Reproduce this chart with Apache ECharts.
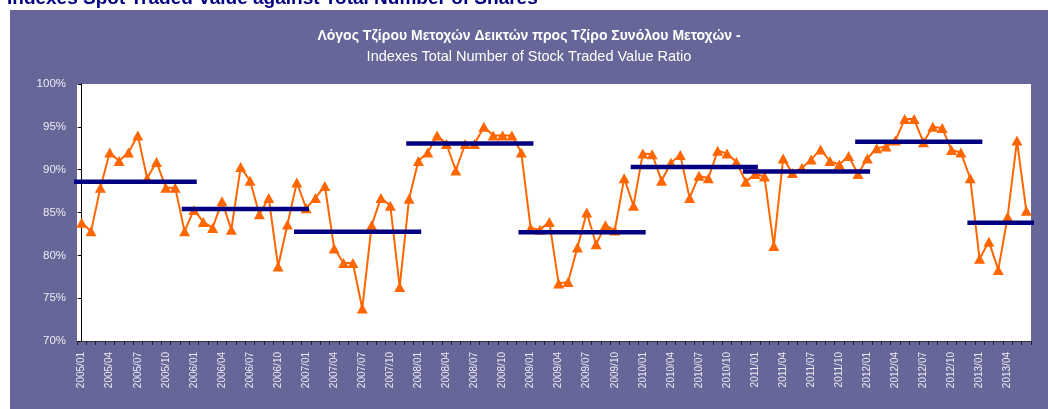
<!DOCTYPE html>
<html><head><meta charset="utf-8">
<script src="https://cdn.jsdelivr.net/npm/echarts@6/dist/echarts.min.js"></script>
<style>html,body{margin:0;padding:0;background:#fff}#c{width:1048px;height:409px}</style>
</head><body><div id="c"></div>
<script>
// ---- data ----
const heading = 'Indexes Spot Traded Value against Total Number of Shares';
const titleGr = 'Λόγος Τζίρου Μετοχών Δεικτών προς Τζίρο Συνόλου Μετοχών -';
const titleEn = 'Indexes Total Number of Stock Traded Value Ratio';
const firstYear = 2005, lastYear = 2013, lastMonth = 6;
const months = [];
for (let y = firstYear; y <= lastYear; y++) {
  for (let m = 1; m <= 12; m++) {
    if (y === lastYear && m > lastMonth) break;
    months.push(y + '/' + String(m).padStart(2, '0'));
  }
}
const ratio = [
  83.8, 82.8, 87.9, 92.0, 91.0, 92.0, 94.0, 89.0, 90.9, 87.9, 87.9, 82.8,   // 2005
  85.3, 83.9, 83.2, 86.3, 83.0, 90.3, 88.7, 84.8, 86.7, 78.7, 83.6, 88.5,   // 2006
  85.5, 86.7, 88.1, 80.8, 79.1, 79.1, 73.8, 83.5, 86.7, 85.8, 76.3, 86.6,   // 2007
  91.0, 92.0, 94.0, 93.0, 89.9, 93.0, 93.0, 95.0, 94.0, 94.0, 94.0, 92.0,   // 2008
  83.2, 83.0, 83.9, 76.7, 76.9, 80.9, 85.0, 81.3, 83.5, 82.9, 89.0, 85.8,   // 2009
  91.9, 91.8, 88.7, 90.8, 91.7, 86.7, 89.3, 89.0, 92.2, 91.9, 90.9, 88.6,   // 2010
  89.5, 89.2, 81.1, 91.3, 89.6, 90.2, 91.2, 92.35, 91.0, 90.6, 91.6, 89.5,  // 2011
  91.3, 92.5, 92.7, 93.4, 95.9, 95.9, 93.2, 95.0, 94.85, 92.3, 92.0, 89.0,  // 2012
  79.6, 81.6, 78.3, 84.5, 93.4, 85.2                                        // 2013
];
const years = ['2005','2006','2007','2008','2009','2010','2011','2012','2013'];
const yearAvg = [88.6, 85.4, 82.75, 93.05, 82.7, 90.3, 89.8, 93.25, 83.8];
const yTicks = [70, 75, 80, 85, 90, 95, 100];

// ---- chart ----
const avgSeries = years.map((yr, k) => {
  const idx = months.map((m, i) => m.startsWith(yr) ? i : -1).filter(i => i >= 0);
  const s = idx[0], e = idx[idx.length - 1];
  return {
    type: 'line', xAxisIndex: 1, yAxisIndex: 0, clip: false, silent: true,
    symbol: 'none', z: 5,
    lineStyle: { color: '#000080', width: 4.5, cap: 'butt' },
    data: [[s - 1.3, yearAvg[k]], [e + 1.3, yearAvg[k]]]
  };
});

const chart = echarts.init(document.getElementById('c'), null, { renderer: 'canvas' });
chart.setOption({
  animation: false,
  backgroundColor: '#ffffff',
  graphic: [
    { type: 'rect', left: 10, top: 10, z: -100, shape: { width: 1038, height: 399 }, style: { fill: '#666699' } },
    { type: 'text', left: 7, top: -11, z: 10, style: { text: heading, fill: '#000080', font: 'bold 19px "Liberation Sans", Arial, sans-serif' } }
  ],
  title: [
    { text: titleGr, left: 529, top: 29, textAlign: 'center', padding: 0,
      textStyle: { color: '#ffffff', fontSize: 14, fontWeight: 'bold', fontFamily: '"Liberation Sans", Arial, sans-serif' } },
    { text: titleEn, left: 529, top: 49, textAlign: 'center', padding: 0,
      textStyle: { color: '#ffffff', fontSize: 14.5, fontWeight: 'normal', fontFamily: '"Liberation Sans", Arial, sans-serif' } }
  ],
  grid: { left: 77, top: 84, width: 954, height: 257, show: true, backgroundColor: '#ffffff', borderWidth: 0 },
  xAxis: [
    { type: 'category', data: months, boundaryGap: true,
      axisLine: { show: true, lineStyle: { color: '#333333', width: 1 } },
      axisTick: { show: true, interval: 0, length: 4, lineStyle: { color: '#222222' } },
      axisLabel: { interval: 2, rotate: 90, margin: 11, color: '#ececf4', fontSize: 10, fontFamily: '"Liberation Sans", Arial, sans-serif' },
      splitLine: { show: false } },
    { type: 'value', min: -0.5, max: months.length - 0.5, show: false }
  ],
  yAxis: {
    type: 'value', min: yTicks[0], max: yTicks[yTicks.length - 1], interval: 5,
    axisLine: { show: true, lineStyle: { color: '#000000', width: 1 } },
    axisTick: { show: true, length: 4, lineStyle: { color: '#000000' } },
    axisLabel: { formatter: '{value}%', margin: 11, color: '#ececf4', fontSize: 11.5, fontFamily: '"Liberation Sans", Arial, sans-serif' },
    splitLine: { show: false }
  },
  series: [
    { type: 'line', data: ratio, xAxisIndex: 0, yAxisIndex: 0, z: 3,
      symbol: 'triangle', symbolSize: [11, 10], showAllSymbol: true,
      itemStyle: { color: '#ff6600' }, lineStyle: { color: '#ff6600', width: 2 } },
    ...avgSeries
  ]
});
</script>
</body></html>
